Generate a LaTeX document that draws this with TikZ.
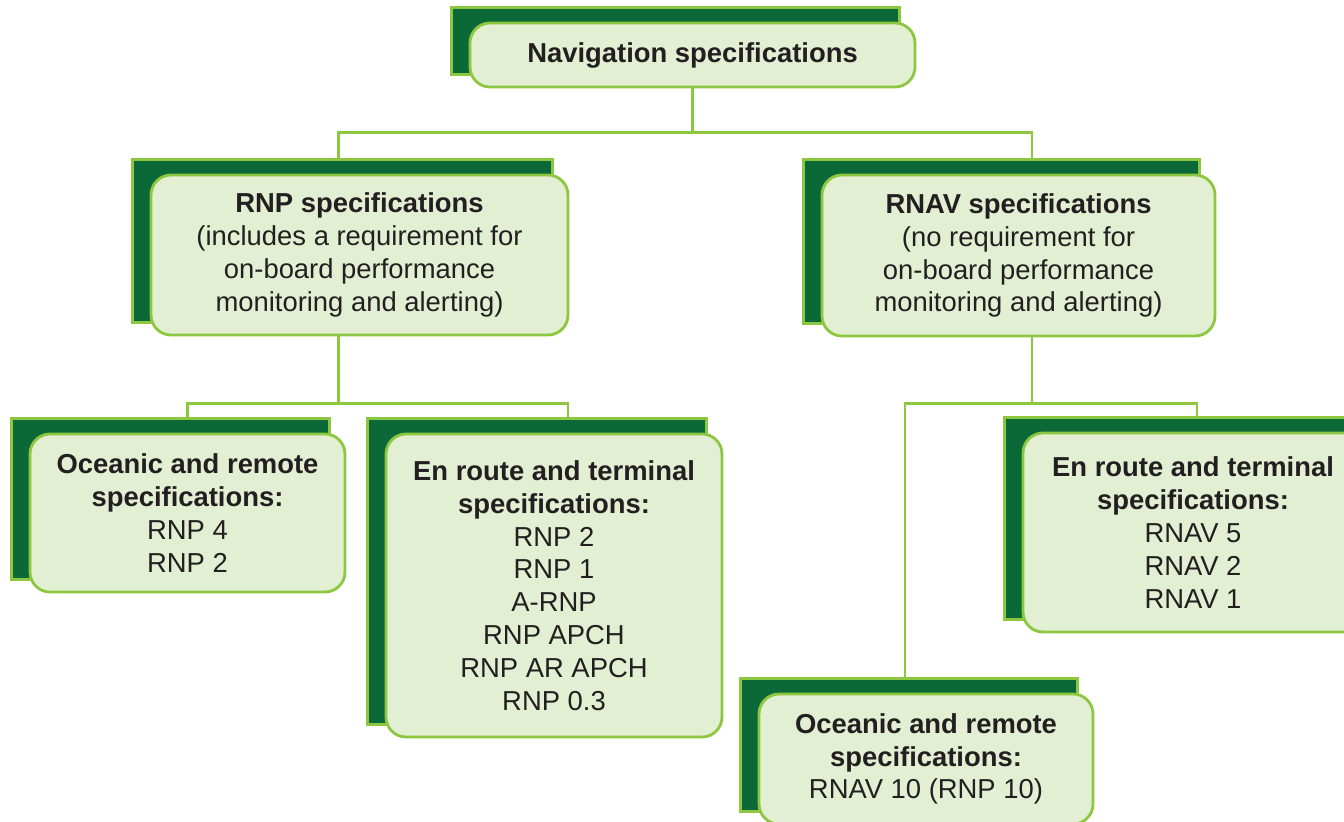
\documentclass[tikz,border=0pt]{standalone}
\usepackage{fontspec}
\setmainfont{Liberation Sans}
\usetikzlibrary{backgrounds}
\definecolor{specdark}{HTML}{0B6837}
\definecolor{specline}{HTML}{8DC63F}
\definecolor{specfill}{HTML}{E3EFD3}
\definecolor{spectext}{HTML}{231F20}

\begin{document}
\begin{tikzpicture}[x=0.02cm,y=-0.02cm,
    specbox/.style={draw=specline,fill=specfill,line width=1.6pt,rounded corners=0.4cm,
      align=center,text=spectext,inner sep=0pt,font=\fontsize{15.6}{18.7}\selectfont},
    boxsize/.style 2 args={minimum width=#1*0.02cm,minimum height=#2*0.02cm},
    backbox/.style={draw=specline,fill=specdark,line width=1.6pt},
    link/.style={draw=specline,line width=1.6pt}]
    \useasboundingbox (0,0) rectangle (1344,821);
    % top level
    \node[specbox,boxsize={445}{64}] (nav) at (692.5,55) {\bfseries Navigation specifications};
    % second level
    \node[specbox,boxsize={417}{160}] (rnp) at (359.5,255)
      {\textbf{RNP specifications}\\(includes a requirement for\\on-board performance\\monitoring and alerting)};
    \node[specbox,boxsize={393}{161}] (rnav) at (1018.5,255.5)
      {\textbf{RNAV specifications}\\(no requirement for\\on-board performance\\monitoring and alerting)};
    % RNP branch
    \node[specbox,boxsize={315}{158}] (rnpocean) at (187.5,513)
      {\textbf{Oceanic and remote}\\\textbf{specifications:}\\RNP 4\\RNP 2};
    \node[specbox,boxsize={336}{303}] (rnpterm) at (554,585.5)
      {\textbf{En route and terminal}\\\textbf{specifications:}\\RNP 2\\RNP 1\\A-RNP\\RNP APCH\\RNP AR APCH\\RNP 0.3};
    % RNAV branch
    \node[specbox,boxsize={340}{199}] (rnavterm) at (1193,532.5)
      {\textbf{En route and terminal}\\\textbf{specifications:}\\RNAV 5\\RNAV 2\\RNAV 1};
    \node[specbox,boxsize={334}{130}] (rnavocean) at (926,759)
      {\textbf{Oceanic and remote}\\\textbf{specifications:}\\RNAV 10 (RNP 10)};

    \begin{scope}[on background layer]
      % connectors
      \draw[link] (nav.south) -- ++(0,44) coordinate (navbus);
      \draw[link] ([xshift=-0.42cm]rnp.north) |- (navbus) -| ([xshift=0.27cm]rnav.north);
      \draw[link] ([xshift=-0.42cm]rnp.south) -- ++(0,67) coordinate (rnpbus);
      \draw[link] (rnpocean.north) |- (rnpbus) -| ([xshift=0.28cm]rnpterm.north);
      \draw[link] ([xshift=0.27cm]rnav.south) -- ++(0,66) coordinate (rnavbus);
      \draw[link] ([xshift=-0.42cm]rnavocean.north) |- (rnavbus) -| ([xshift=0.08cm]rnavterm.north);
      % dark blocks behind the boxes
      \foreach \n in {nav,rnp,rnav,rnpocean,rnpterm,rnavterm,rnavocean}
        \draw[backbox] ([shift={(-17,-14)}]\n.south west) rectangle ([shift={(-17,-14)}]\n.north east);
    \end{scope}
\end{tikzpicture}
\end{document}
